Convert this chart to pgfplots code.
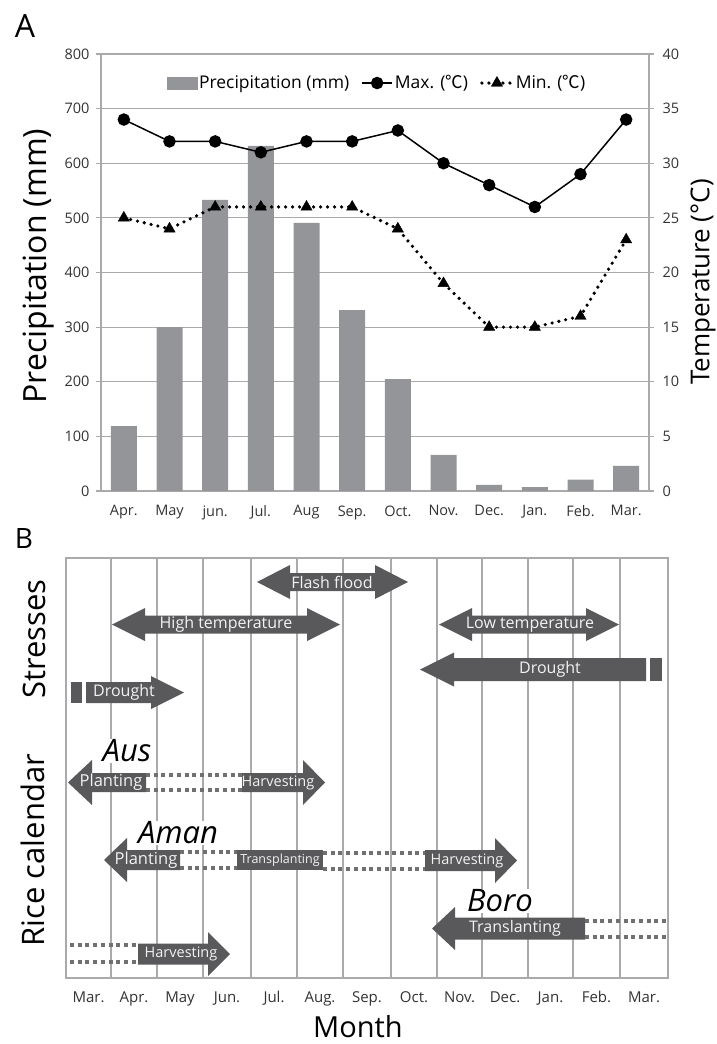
\documentclass[border=0pt]{standalone}
\usepackage{pgfplots}
\pgfplotsset{compat=1.18}
\usepackage{fontspec}
\setmainfont{Open Sans}
\newfontfamily\cjk{Noto Sans CJK JP}
\definecolor{barc}{RGB}{147,149,152}
\definecolor{gridc}{RGB}{170,170,170}
\definecolor{arrc}{RGB}{89,89,91}
\definecolor{dotc}{RGB}{112,112,112}
\definecolor{txtc}{RGB}{242,242,242}
\newcommand{\fs}[1]{\fontsize{#1}{#1}\selectfont}
\pgfplotsset{/pgfplots/legend image code/.code={\draw[mark repeat=2,mark phase=2,#1] plot coordinates {(0pt,0pt) (15pt,0pt) (30pt,0pt)};}}
\begin{document}
\begin{tikzpicture}
\useasboundingbox (0,0) rectangle (717pt,-1044pt);
% ---------------- Panel A ----------------
\begin{axis}[
  at={(101pt,-491pt)}, anchor=south west,
  scale only axis, width=548pt, height=437pt,
  xmin=-0.5, xmax=11.5, ymin=0, ymax=800,
  xtick={0,...,11},
  xticklabels={Apr.,May,jun.,Jul.,Aug,Sep.,Oct.,Nov.,Dec.,Jan.,Feb.,Mar.},
  ytick={0,100,...,800},
  axis x line*=bottom, axis y line*=left,
  axis line style={gridc, line width=1.2pt, -},
  ymajorgrids, major grid style={gridc, line width=1.2pt},
  tick align=outside, major tick length=5pt,
  ytick style={gridc, line width=1.2pt},
  xtick style={draw=none},
  tick label style={font=\fs{14.5}, text=black!80},
  xticklabel style={yshift=-6pt},
  yticklabel style={xshift=-3pt},
  /pgf/number format/assume math mode=true,
  clip=false,
]
\addplot[ybar, bar width=26pt, fill=barc, draw=none] coordinates {
 (0,119) (1,300) (2,533) (3,632) (4,491) (5,331) (6,205) (7,66) (8,11) (9,7) (10,21) (11,46)};
\end{axis}
\begin{axis}[
  at={(101pt,-491pt)}, anchor=south west,
  scale only axis, width=548pt, height=437pt,
  xmin=-0.5, xmax=11.5, ymin=0, ymax=40,
  xtick=\empty,
  ytick={0,5,...,40},
  axis y line*=right, axis x line=none,
  axis line style={gridc, line width=1.2pt, -},
  tick align=outside, major tick length=5pt,
  ytick style={gridc, line width=1.2pt},
  tick label style={font=\fs{14.5}, text=black!80},
  yticklabel style={xshift=5pt},
  /pgf/number format/assume math mode=true,
  legend columns=-1,
  legend style={at={(0.5036,0.9336)}, anchor=center, draw=none, fill=none,
    font=\fs{17.5}, /tikz/every even column/.append style={column sep=10pt}},
  clip=false,
]
\addlegendimage{legend image code/.code={\fill[barc] (0pt,-6pt) rectangle (30pt,6pt);}}
\addlegendentry{Precipitation (mm)}
\addplot[black, line width=1.5pt, mark=*, mark size=5.5pt, mark options={solid}] coordinates {
 (0,34) (1,32) (2,32) (3,31) (4,32) (5,32) (6,33) (7,30) (8,28) (9,26) (10,29) (11,34)};
\addlegendentry{Max. ({\cjk ℃})}
\addplot[black, line width=3.6pt, line cap=round, dash pattern=on 0pt off 7pt, mark=triangle*, mark size=6.5pt, mark options={solid, line width=0.4pt}] coordinates {
 (0,25) (1,24) (2,26) (3,26) (4,26) (5,26) (6,24) (7,19) (8,15) (9,15) (10,16) (11,23)};
\addlegendentry{Min. ({\cjk ℃})}
\end{axis}
\node[font=\fs{32}] at (25pt,-26.5pt) {A};
\node[rotate=90, font=\fs{32}] at (39pt,-266pt) {Precipitation (mm)};
\node[rotate=90, font=\fs{26}] at (703pt,-282pt) {Temperature (°C)};
% ---------------- Panel B ----------------
\begin{axis}[
  at={(66pt,-978pt)}, anchor=south west,
  scale only axis, width=602pt, height=420pt,
  xmin=66, xmax=668, ymin=-978, ymax=-558,
  xtick={88.5,134,180,227,274,320,367,414,459.5,505,550.5,596.5,644},
  xticklabels={Mar.,Apr.,May,Jun.,Jul.,Aug.,Sep.,Oct.,Nov.,Dec.,Jan.,Feb.,Mar.},
  ytick=\empty,
  minor xtick={111,157,203,251,297,343,391,437,482,528,573,620},
  xminorgrids, minor grid style={gridc, line width=1.2pt},
  major tick length=0pt, minor tick length=0pt,
  xtick style={draw=none},
  axis line style={gridc, line width=1.2pt},
  tick label style={font=\fs{15}, text=black!80},
  xticklabel style={yshift=-10pt},
  clip=false,
]
% italic crop labels (white background)
\node[fill=white, inner sep=1pt, font=\fs{31}\itshape] at (axis cs:127,-751) {Aus};
\node[fill=white, inner sep=1pt, font=\fs{31}\itshape] at (axis cs:178,-833) {Aman};
\node[fill=white, inner sep=1pt, font=\fs{31}\itshape] at (axis cs:500,-901) {Boro};
% dotted double lines
\addplot[dotc, line width=4pt, dash pattern=on 4pt off 3.7pt] coordinates {(146,-775) (242,-775)};
\addplot[dotc, line width=4pt, dash pattern=on 4pt off 3.7pt] coordinates {(146,-790) (242,-790)};
\addplot[dotc, line width=4pt, dash pattern=on 4pt off 3.7pt] coordinates {(180,-852) (237,-852)};
\addplot[dotc, line width=4pt, dash pattern=on 4pt off 3.7pt] coordinates {(180,-868) (237,-868)};
\addplot[dotc, line width=4pt, dash pattern=on 4pt off 3.7pt] coordinates {(323,-853) (425,-853)};
\addplot[dotc, line width=4pt, dash pattern=on 4pt off 3.7pt] coordinates {(323,-869) (425,-869)};
\addplot[dotc, line width=4pt, dash pattern=on 4pt off 3.7pt] coordinates {(585,-921) (666,-921)};
\addplot[dotc, line width=4pt, dash pattern=on 4pt off 3.7pt] coordinates {(585,-937) (666,-937)};
\addplot[dotc, line width=4pt, dash pattern=on 4pt off 3.7pt] coordinates {(70,-945) (138,-945)};
\addplot[dotc, line width=4pt, dash pattern=on 4pt off 3.7pt] coordinates {(70,-962) (138,-962)};
% stress arrows
\fill[arrc] (axis cs:257,-582) -- (axis cs:290,-565) -- (axis cs:290,-573) -- (axis cs:375,-573) -- (axis cs:375,-565) -- (axis cs:408,-582) -- (axis cs:375,-599) -- (axis cs:375,-591) -- (axis cs:290,-591) -- (axis cs:290,-599) -- cycle;
\node[font=\fs{16}, text=txtc] at (axis cs:332,-582) {Flash flood};
\fill[arrc] (axis cs:112,-624.5) -- (axis cs:145,-608) -- (axis cs:145,-615.5) -- (axis cs:307,-615.5) -- (axis cs:307,-608) -- (axis cs:340,-624.5) -- (axis cs:307,-641) -- (axis cs:307,-633.5) -- (axis cs:145,-633.5) -- (axis cs:145,-641) -- cycle;
\node[font=\fs{16}, text=txtc] at (axis cs:226,-624.5) {High temperature};
\fill[arrc] (axis cs:439,-624.5) -- (axis cs:472,-608) -- (axis cs:472,-615.5) -- (axis cs:586,-615.5) -- (axis cs:586,-608) -- (axis cs:619,-624.5) -- (axis cs:586,-641) -- (axis cs:586,-633.5) -- (axis cs:472,-633.5) -- (axis cs:472,-641) -- cycle;
\node[font=\fs{16}, text=txtc] at (axis cs:530,-624.5) {Low temperature};
\fill[arrc] (axis cs:420,-669.5) -- (axis cs:454,-652.5) -- (axis cs:454,-658) -- (axis cs:646,-658) -- (axis cs:646,-681) -- (axis cs:454,-681) -- (axis cs:454,-686.5) -- cycle;
\fill[arrc] (axis cs:650,-658) rectangle (axis cs:662,-681);
\node[font=\fs{16}, text=txtc] at (axis cs:550,-669.5) {Drought};
\fill[arrc] (axis cs:71,-682) rectangle (axis cs:82,-703);
\fill[arrc] (axis cs:86,-682) -- (axis cs:151,-682) -- (axis cs:151,-676) -- (axis cs:184,-692.5) -- (axis cs:151,-709) -- (axis cs:151,-703) -- (axis cs:86,-703) -- cycle;
\node[font=\fs{16}, text=txtc] at (axis cs:124,-692.5) {Drought};
% rice calendar arrows
\fill[arrc] (axis cs:68,-782.5) -- (axis cs:92,-760) -- (axis cs:92,-773) -- (axis cs:146,-773) -- (axis cs:146,-792) -- (axis cs:92,-792) -- (axis cs:92,-805) -- cycle;
\node[font=\fs{16.5}, text=txtc] at (axis cs:111,-782.5) {Planting};
\fill[arrc] (axis cs:242,-773) -- (axis cs:303,-773) -- (axis cs:303,-760) -- (axis cs:325,-782.5) -- (axis cs:303,-805) -- (axis cs:303,-792) -- (axis cs:242,-792) -- cycle;
\node[font=\fs{14.5}, text=txtc] at (axis cs:278,-782.5) {Harvesting};
\fill[arrc] (axis cs:104,-860) -- (axis cs:127,-838) -- (axis cs:127,-850) -- (axis cs:180,-850) -- (axis cs:180,-870) -- (axis cs:127,-870) -- (axis cs:127,-882) -- cycle;
\node[font=\fs{16.5}, text=txtc] at (axis cs:146,-860) {Planting};
\fill[arrc] (axis cs:237,-850) rectangle (axis cs:323,-870);
\node[font=\fs{12.5}, text=txtc] at (axis cs:280,-860) {Transplanting};
\fill[arrc] (axis cs:425,-850) -- (axis cs:495,-850) -- (axis cs:495,-838) -- (axis cs:517,-860.5) -- (axis cs:495,-883) -- (axis cs:495,-871) -- (axis cs:425,-871) -- cycle;
\node[font=\fs{14.5}, text=txtc] at (axis cs:467,-860.5) {Harvesting};
\fill[arrc] (axis cs:432,-928.5) -- (axis cs:455,-907) -- (axis cs:455,-917.5) -- (axis cs:585,-917.5) -- (axis cs:585,-939.5) -- (axis cs:455,-939.5) -- (axis cs:455,-950) -- cycle;
\node[font=\fs{16}, text=txtc] at (axis cs:515,-928.5) {Translanting};
\fill[arrc] (axis cs:138,-943.5) -- (axis cs:208,-943.5) -- (axis cs:208,-932) -- (axis cs:230,-954) -- (axis cs:208,-976) -- (axis cs:208,-964.5) -- (axis cs:138,-964.5) -- cycle;
\node[font=\fs{14.5}, text=txtc] at (axis cs:181,-954) {Harvesting};
\end{axis}
\node[font=\fs{28}] at (24pt,-538.5pt) {B};
\node[rotate=90, font=\fs{31}] at (34pt,-639pt) {Stresses};
\node[rotate=90, font=\fs{31}] at (33pt,-850pt) {Rice calendar};
\node[font=\fs{29}] at (358pt,-1027pt) {Month};
\end{tikzpicture}
\end{document}
